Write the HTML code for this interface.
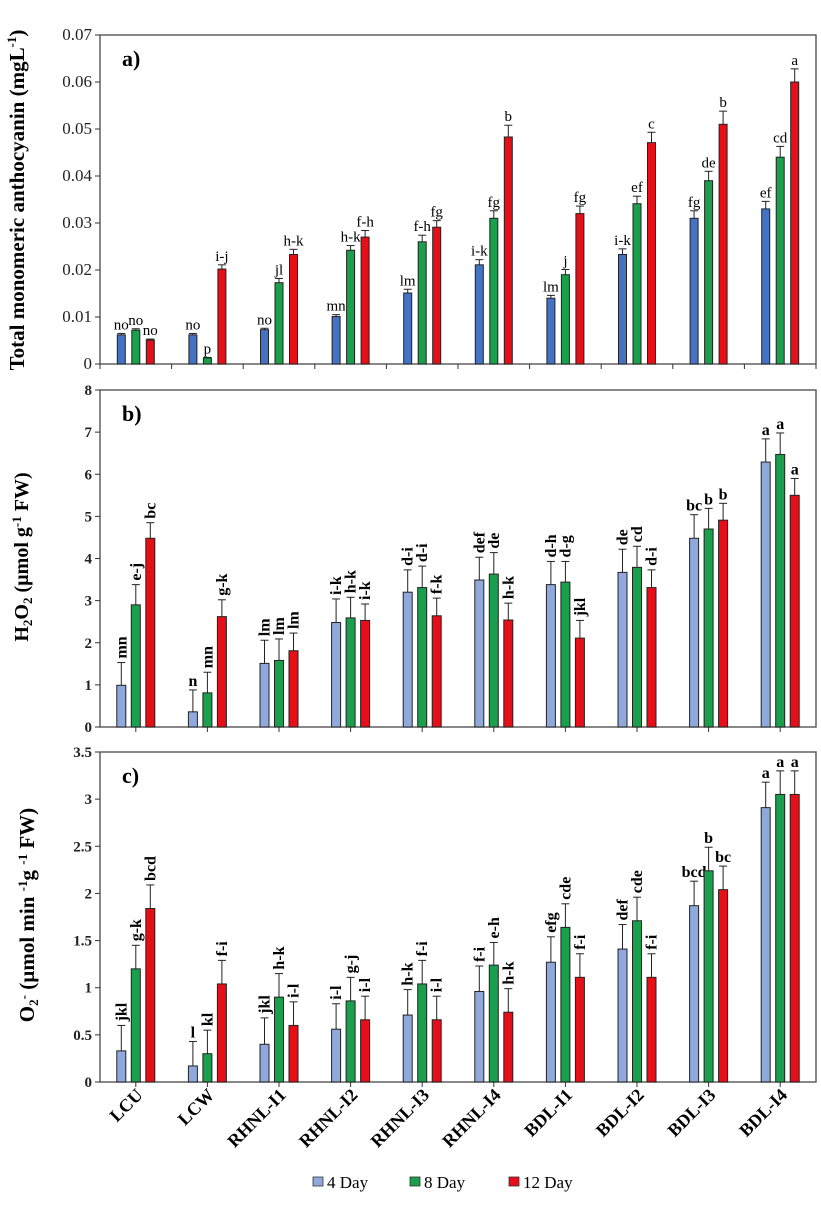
<!DOCTYPE html>
<html><head><meta charset="utf-8"><style>
html,body{margin:0;padding:0;background:#fff;}
svg, svg text{font-family:"Liberation Serif","DejaVu Serif",serif;}
</style></head><body>
<svg id="chart" width="821" height="1200" viewBox="0 0 821 1200" font-family="Liberation Serif, serif"></svg>
<script>
const categories=["LCU","LCW","RHNL-I1","RHNL-I2","RHNL-I3","RHNL-I4","BDL-I1","BDL-I2","BDL-I3","BDL-I4"];
const seriesNames=["4 Day","8 Day","12 Day"];
// Panel a
const aDay4=[0.0062,0.0062,0.0073,0.0101,0.0151,0.0211,0.014,0.0233,0.031,0.033];
const aDay8=[0.0072,0.0013,0.0173,0.0242,0.026,0.031,0.019,0.0341,0.039,0.044];
const aDay12=[0.0051,0.0202,0.0233,0.027,0.0291,0.0483,0.032,0.0471,0.051,0.060];
const aErr4=[0.0003,0.0003,0.0003,0.0004,0.0008,0.0011,0.0006,0.0012,0.0016,0.0016];
const aErr8=[0.0003,0.0001,0.0009,0.001,0.0014,0.0016,0.0011,0.0016,0.002,0.0023];
const aErr12=[0.0002,0.0009,0.0011,0.0014,0.0014,0.0025,0.0016,0.0022,0.0028,0.0028];
const aLab4=["no","no","no","mn","lm","i-k","lm","i-k","fg","ef"];
const aLab8=["no","p","jl","h-k","f-h","fg","j","ef","de","cd"];
const aLab12=["no","i-j","h-k","f-h","fg","b","fg","c","b","a"];
const aTicks=["0","0.01","0.02","0.03","0.04","0.05","0.06","0.07"];
// Panel b
const bDay4=[0.99,0.36,1.51,2.48,3.2,3.49,3.38,3.67,4.48,6.29];
const bDay8=[2.9,0.81,1.58,2.59,3.31,3.63,3.44,3.79,4.70,6.47];
const bDay12=[4.48,2.62,1.81,2.53,2.64,2.54,2.11,3.31,4.91,5.50];
const bErr4=[0.54,0.52,0.55,0.56,0.53,0.54,0.55,0.55,0.56,0.55];
const bErr8=[0.48,0.49,0.51,0.49,0.51,0.51,0.49,0.5,0.49,0.51];
const bErr12=[0.37,0.4,0.42,0.39,0.42,0.4,0.42,0.42,0.4,0.4];
const bLab4=["mn","n","lm","i-k","d-i","def","d-h","de","bc","a"];
const bLab8=["e-j","mn","lm","h-k","d-i","de","d-g","cd","b","a"];
const bLab12=["bc","g-k","lm","i-k","f-k","h-k","jkl","d-i","b","a"];
const bTicks=["0","1","2","3","4","5","6","7","8"];
// Panel c
const cDay4=[0.33,0.17,0.40,0.56,0.71,0.96,1.27,1.41,1.87,2.91];
const cDay8=[1.20,0.30,0.90,0.86,1.04,1.24,1.64,1.71,2.24,3.05];
const cDay12=[1.84,1.04,0.60,0.66,0.66,0.74,1.11,1.11,2.04,3.05];
const cErr4=[0.27,0.26,0.28,0.27,0.27,0.27,0.27,0.26,0.26,0.27];
const cErr8=[0.25,0.25,0.25,0.25,0.25,0.24,0.25,0.25,0.25,0.25];
const cErr12=[0.25,0.25,0.25,0.25,0.25,0.25,0.25,0.25,0.25,0.25];
const cLab4=["jkl","l","jkl","i-l","h-k","f-i","efg","def","bcd","a"];
const cLab8=["g-k","kl","h-k","g-j","f-i","e-h","cde","cde","b","a"];
const cLab12=["bcd","f-i","i-l","i-l","i-l","h-k","f-i","f-i","bc","a"];
const cTicks=["0","0.5","1","1.5","2","2.5","3","3.5"];

const NS="http://www.w3.org/2000/svg";
const svg=document.getElementById("chart");
function mk(tag,attrs,parent){const e=document.createElementNS(NS,tag);for(const k in attrs)e.setAttribute(k,attrs[k]);(parent||svg).appendChild(e);return e;}
const X0=100,X1=816,GW=(X1-X0)/categories.length;
function xCenter(i){return X0+GW*(i+0.5);}
const OFF=[-14.5,0,14.5];

function panel(cfg){
  const g=mk("g",{});
  
  
  const y=v=>cfg.y0-(v/cfg.max)*(cfg.y0-cfg.yTop);
  const fr=mk("rect",{x:X0,y:cfg.yTop,width:X1-X0,height:cfg.y0-cfg.yTop,fill:"none",stroke:"#555","stroke-width":1.4},g);
  
  
  cfg.ticks.forEach((t,k)=>{
    const v=cfg.max*k/(cfg.ticks.length-1);const yy=y(v);
    mk("line",{x1:X0-5,x2:X0,y1:yy,y2:yy,stroke:"#333"},g);
    const tx=mk("text",{x:X0-8,y:yy+5,"text-anchor":"end","font-size":cfg.tickSize,"font-weight":cfg.bold?"bold":"normal",fill:"#222"},g);
    tx.textContent=t;
    
    
  });
  for(let i=0;i<=categories.length;i++){
    if(cfg.tickAtCenter&&i==categories.length)break;
    const xx=cfg.tickAtCenter?xCenter(i):X0+GW*i;
    mk("line",{x1:xx,x2:xx,y1:cfg.y0,y2:cfg.y0+5,stroke:"#333"},g);
  }
  const pl=mk("text",{x:X0+22,y:cfg.yTop+31,"font-size":22,"font-weight":"bold"},g);
  pl.textContent=cfg.letter;
  
  
  for(let s=0;s<3;s++){
    for(let i=0;i<categories.length;i++){
      const v=cfg.vals[s][i],e=cfg.errs[s][i];
      const cx=xCenter(i)+OFF[s];
      const r=mk("rect",{x:cx-cfg.bw/2,y:y(v),width:cfg.bw,height:cfg.y0-y(v),fill:cfg.colors[s],stroke:"#222","stroke-width":1},g);
      
      
      const yt=y(v+e);
      mk("line",{x1:cx,x2:cx,y1:y(v),y2:yt,stroke:"#222","stroke-width":1},g);
      mk("line",{x1:cx-4,x2:cx+4,y1:yt,y2:yt,stroke:"#222","stroke-width":1},g);
      const lab=cfg.labs[s][i];
      let t;
      const rot=cfg.rotate && lab.length>1 && !(i>=8);
      if(rot){
        t=mk("text",{x:0,y:0,transform:`translate(${cx+5},${yt-4}) rotate(-90)`,"font-size":16,"font-weight":"bold"},g);
      }else{
        t=mk("text",{x:cx,y:yt-4,"text-anchor":"middle","font-size":cfg.rotate?16:15,"font-weight":cfg.bold?"bold":"normal"},g);
      }
      t.textContent=lab;
      
      
    }
  }
}
const dark=["#4472c4","#1aa04c","#e60f17"];
const light=["#8fa9dc","#1aa04c","#e60f17"];
panel({name:"panel-a-anthocyanin",yTop:35,y0:364,max:0.07,ticks:aTicks,tickSize:17,bold:false,letter:"a)",vals:[aDay4,aDay8,aDay12],errs:[aErr4,aErr8,aErr12],labs:[aLab4,aLab8,aLab12],colors:dark,bw:8,rotate:false,tickAtCenter:false});
panel({name:"panel-b-h2o2",yTop:390,y0:727,max:8,ticks:bTicks,tickSize:15,bold:true,letter:"b)",vals:[bDay4,bDay8,bDay12],errs:[bErr4,bErr8,bErr12],labs:[bLab4,bLab8,bLab12],colors:light,bw:9,rotate:true,tickAtCenter:true});
panel({name:"panel-c-superoxide",yTop:752,y0:1082,max:3.5,ticks:cTicks,tickSize:15,bold:true,letter:"c)",vals:[cDay4,cDay8,cDay12],errs:[cErr4,cErr8,cErr12],labs:[cLab4,cLab8,cLab12],colors:light,bw:9,rotate:true,tickAtCenter:true});

categories.forEach((c,i)=>{
  const t=mk("text",{x:0,y:0,transform:`translate(${xCenter(i)+8},${1096}) rotate(-45)`,"text-anchor":"end","font-size":18,"font-weight":"bold"});
  t.textContent=c;
  
  
});
const legX=[313,410,509];
seriesNames.forEach((n,s)=>{
  const r=mk("rect",{x:legX[s],y:1177,width:10,height:9,fill:light[s],stroke:"#333","stroke-width":0.8});
  
  
  const t=mk("text",{x:legX[s]+14,y:1188,"font-size":17});
  t.textContent=n;
  
  
});
</script>
<div style="position:absolute;left:0;top:0;width:821px;height:1200px;pointer-events:none;">
<svg width="821" height="1200" style="position:absolute;left:0;top:0;" font-family="Liberation Serif, serif">
<text transform="translate(24,200) rotate(-90)" text-anchor="middle" font-size="21" font-weight="bold">Total monomeric anthocyanin (mgL<tspan font-size="13" dy="-8">-1</tspan><tspan dy="8">)</tspan></text>
<text transform="translate(28,557) rotate(-90)" text-anchor="middle" font-size="20" font-weight="bold">H<tspan font-size="13" dy="4">2</tspan><tspan dy="-4">O</tspan><tspan font-size="13" dy="4">2</tspan><tspan dy="-4"> (µmol g</tspan><tspan font-size="13" dy="-7">-1</tspan><tspan dy="7"> FW)</tspan></text>
<text transform="translate(34,915) rotate(-90)" text-anchor="middle" font-size="21" font-weight="bold">O<tspan font-size="13" dy="4">2</tspan><tspan font-size="13" dy="-10">-</tspan><tspan dy="6"> (µmol min </tspan><tspan font-size="13" dy="-7">-1</tspan><tspan dy="7">g </tspan><tspan font-size="13" dy="-7">-1</tspan><tspan dy="7"> FW)</tspan></text>
</svg></div>
</body></html>
